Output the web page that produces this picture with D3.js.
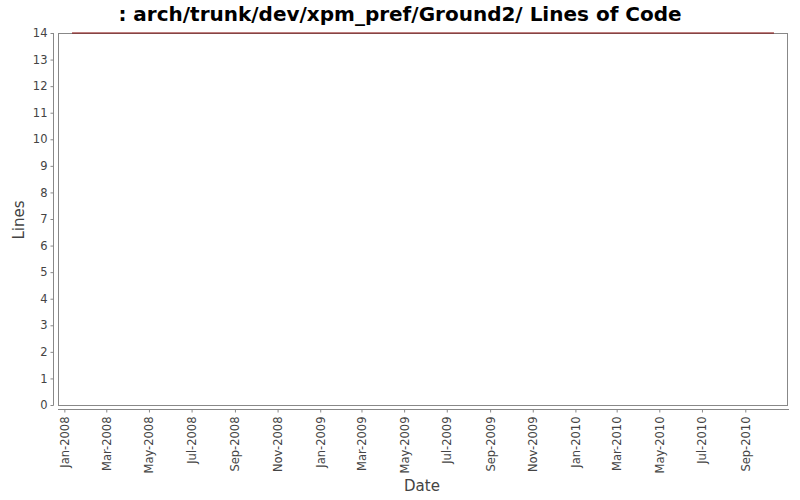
<!DOCTYPE html>
<html>
<head>
<meta charset="utf-8">
<script src="https://cdn.jsdelivr.net/npm/d3@7"></script>
<style>
html,body{margin:0;padding:0;background:#fff;}
svg{display:block;}
text{font-family:"DejaVu Sans",sans-serif;}
</style>
</head>
<body>
<svg id="chart" width="800" height="500"></svg>
<script>
const title = ": arch/trunk/dev/xpm_pref/Ground2/ Lines of Code";
const xLabel = "Date";
const yLabel = "Lines";
const dates = ["2008-01-12", "2010-10-12"];
const lines = [14, 14];
const yTicks = [0,1,2,3,4,5,6,7,8,9,10,11,12,13,14];
const xTickDates = ["2008-01-01","2008-03-01","2008-05-01","2008-07-01","2008-09-01","2008-11-01",
  "2009-01-01","2009-03-01","2009-05-01","2009-07-01","2009-09-01","2009-11-01",
  "2010-01-01","2010-03-01","2010-05-01","2010-07-01","2010-09-01"];

const parse = d3.utcParse("%Y-%m-%d");
const data = dates.map((d,i)=>({date:parse(d), v:lines[i]}));
const svg = d3.select("#chart");
const L=58, R=788, T=33, B=405;

const ext = d3.extent(data, d=>d.date);
const span = ext[1]-ext[0];
const pad = span*0.02;
const x = d3.scaleUtc().domain([new Date(+ext[0]-pad), new Date(+ext[1]+pad)]).range([L,R]);
const y = d3.scaleLinear().domain([0,14]).range([B,T]);

svg.append("rect").attr("x",0).attr("y",0).attr("width",800).attr("height",500).attr("fill","#fff");

// plot outline
svg.append("rect").attr("x",L+0.5).attr("y",T+0.5).attr("width",R-L-1).attr("height",B-T)
  .attr("fill","#fff").attr("stroke","#888").attr("stroke-width",1);

// line
svg.append("path").datum(data)
  .attr("d", d3.line().x(d=>x(d.date)).y(d=>y(d.v)))
  .attr("fill","none").attr("stroke","#800000").attr("stroke-width",1.2);

// y axis
const yAxis = svg.append("g").attr("transform",`translate(${L-4.5},0)`)
  .call(d3.axisLeft(y).tickValues(yTicks).tickSize(3).tickPadding(3).tickFormat(d3.format("d")));
yAxis.select(".domain").attr("stroke","#888").attr("d",`M0,${T}V${B+0.5}`);
yAxis.selectAll(".tick line").attr("stroke","#888");
yAxis.selectAll(".tick text").attr("fill","#444").style("font-size","11.5px");

// x axis
const xAxis = svg.append("g").attr("transform",`translate(0,${B+4.5})`)
  .call(d3.axisBottom(x).tickValues(xTickDates.map(parse)).tickSize(3).tickFormat(d3.utcFormat("%b-%Y")));
xAxis.select(".domain").attr("stroke","#888").attr("d",`M${L},0H${R+1}`);
xAxis.selectAll(".tick line").attr("stroke","#888");
xAxis.selectAll(".tick text").attr("fill","#444").style("font-size","11.5px")
  .attr("transform","rotate(-90)").attr("text-anchor","end")
  .attr("x",-7).attr("y",0).attr("dy","0.35em");

// title
svg.append("text").attr("x",400).attr("y",21).attr("text-anchor","middle")
  .style("font-size","20px").style("font-weight","bold").attr("fill","#000").text(title);

// axis labels
svg.append("text").attr("x",422).attr("y",491).attr("text-anchor","middle")
  .style("font-size","15px").attr("fill","#444").text(xLabel);
svg.append("text").attr("transform","translate(24,220) rotate(-90)").attr("text-anchor","middle")
  .style("font-size","15px").attr("fill","#444").text(yLabel);
</script>
</body>
</html>
